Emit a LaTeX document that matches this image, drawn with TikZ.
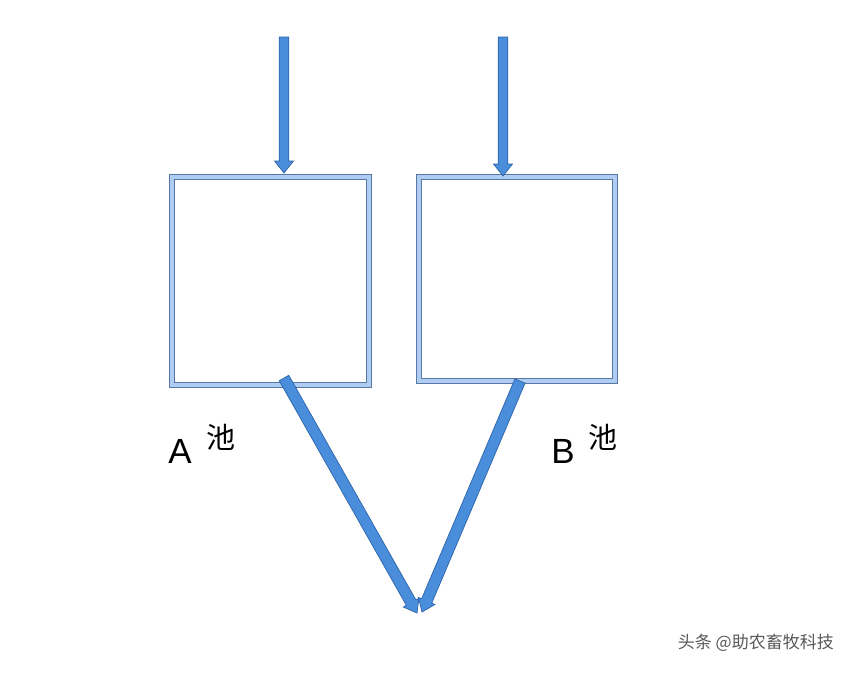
\documentclass[tikz,border=0pt]{standalone}
\usepackage{fontspec}
\setmainfont{Liberation Sans}
\newfontfamily\cjk{Noto Sans CJK SC}
\usetikzlibrary{calc}
\definecolor{arrfill}{HTML}{4A8DDA}
\definecolor{arrdraw}{HTML}{2C64AA}
\definecolor{boxdark}{HTML}{5877A3}
\definecolor{boxlight}{HTML}{AFCDF2}
\tikzset{
  pool/.style={draw=boxdark, line width=1.1pt, double=boxlight, double distance=3.2pt, rectangle, inner sep=0pt},
  fatarr/.style={fill=arrfill, draw=arrdraw, line width=0.7pt, line join=miter},
  lbl/.style={font=\fontsize{35}{35}\selectfont, inner sep=0pt},
  cjklbl/.style={font=\cjk\fontsize{29}{29}\selectfont, inner sep=0pt},
}
% #1 start, #2 tip, #3 half shaft width, #4 half head width, #5 head length
\newcommand{\fatarrow}[5]{%
  \coordinate (fa-h) at ($(#2)!#5!(#1)$);
  \filldraw[fatarr] ($(#1)!#3!90:(#2)$) -- ($(fa-h)!#3!90:(#2)$) -- ($(fa-h)!#4!90:(#2)$)
    -- (#2) -- ($(fa-h)!#4!-90:(#2)$) -- ($(fa-h)!#3!-90:(#2)$) -- ($(#1)!#3!-90:(#2)$) -- cycle;
}
\begin{document}
\begin{tikzpicture}[x=1pt,y=-1pt]
\useasboundingbox[fill=white] (0,0) rectangle (850,672);
\node[pool, minimum width=197pt, minimum height=208pt] (A) at (270.5,281) {};
\node[pool, minimum width=196pt, minimum height=204pt] (B) at (517,279) {};
\coordinate (a0) at (284,37);
\coordinate (a1) at (284,173);
\coordinate (b0) at (503,37);
\coordinate (b1) at (503,176);
\coordinate (a2) at (284,378);
\coordinate (b2) at (520,381);
\coordinate (ta) at (417,613);
\coordinate (tb) at (422,612);
\fatarrow{a0}{a1}{4.8pt}{9.5pt}{12pt}
\fatarrow{b0}{b1}{4.8pt}{9.5pt}{12pt}
\fatarrow{a2}{ta}{5.5pt}{9pt}{12pt}
\fatarrow{b2}{tb}{5.5pt}{9pt}{12pt}
\node[lbl] (la) at (180,451) {A};
\node[cjklbl] (lac) at (221,437) {池};
\node[lbl] (lb) at (563,451) {B};
\node[cjklbl] (lbc) at (603,437) {池};
\node[font=\cjk\fontsize{17}{17}\selectfont, text=black!65, anchor=east, inner sep=0pt] (wm) at (834,643) {头条 @助农畜牧科技};
\end{tikzpicture}
\end{document}
